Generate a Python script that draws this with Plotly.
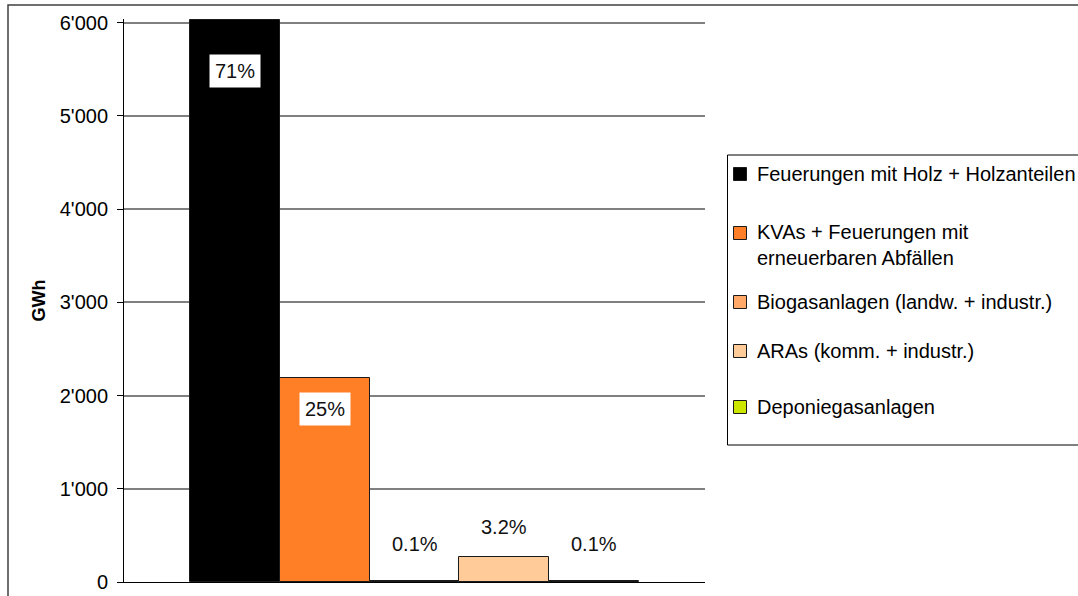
import plotly.graph_objects as go

# Renewable heat production by plant type (GWh)
categories = [
    "Feuerungen mit Holz + Holzanteilen",
    "KVAs + Feuerungen mit erneuerbaren Abfällen",
    "Biogasanlagen (landw. + industr.)",
    "ARAs (komm. + industr.)",
    "Deponiegasanlagen",
]
legend_labels = [
    "Feuerungen mit Holz + Holzanteilen",
    "KVAs + Feuerungen mit<br>erneuerbaren Abfällen",
    "Biogasanlagen (landw. + industr.)",
    "ARAs (komm. + industr.)",
    "Deponiegasanlagen",
]
values_gwh = [6030, 2190, 10, 265, 10]
share_labels = ["71%", "25%", "0.1%", "3.2%", "0.1%"]

y_tickvals = [0, 1000, 2000, 3000, 4000, 5000, 6000]
y_ticktext = ["0", "1'000", "2'000", "3'000", "4'000", "5'000", "6'000"]

colors = ["#000000", "#FF7F27", "#FFA868", "#FFCC99", "#CCE600"]

# figure geometry (pixels)
W, H = 1078, 596
ML, MR, MT, MB = 124, 373, 19, 14
PW, PH = W - ML - MR, H - MT - MB
FONT = "Liberation Sans, Arial, sans-serif"
FS = 20


def px2x(px):
    return (px - ML) / PW


def px2y(py):
    return (H - MB - py) / PH


fig = go.Figure()
for cat, val, col in zip(categories, values_gwh, colors):
    fig.add_trace(go.Bar(
        x=[cat], y=[val], name=cat,
        marker=dict(color=col, line=dict(color="#1a1a1a", width=1)),
        showlegend=False, hoverinfo="y+name",
    ))

# percentage labels, offset from each bar top (pixels)
label_shift = [-51, -31, 37, 30, 37]
for cat, val, txt, dy in zip(categories, values_gwh, share_labels, label_shift):
    fig.add_annotation(
        x=cat, y=val, xref="x", yref="y", text=txt, showarrow=False,
        yshift=dy, yanchor="middle", font=dict(family=FONT, size=FS, color="#111"),
        bgcolor="white", borderpad=5,
    )

shapes = []
# outer chart border
shapes.append(dict(type="rect", xref="paper", yref="paper",
                   x0=px2x(8), x1=px2x(1100), y0=px2y(620), y1=px2y(5),
                   line=dict(color="#404040", width=1.5), layer="below"))
# legend box
shapes.append(dict(type="rect", xref="paper", yref="paper",
                   x0=px2x(727.5), x1=px2x(1100), y0=px2y(445), y1=px2y(155),
                   line=dict(color="#000", width=1), fillcolor="white"))

swatch_y = [174, 233, 302, 351, 407]
text_y = [174, 245, 302, 351, 407]
for col, lab, sy, ty in zip(colors, legend_labels, swatch_y, text_y):
    shapes.append(dict(type="rect", xref="paper", yref="paper",
                       x0=px2x(733.5), x1=px2x(746.5), y0=px2y(sy + 6.5), y1=px2y(sy - 6.5),
                       line=dict(color="#1a1a1a", width=1), fillcolor=col))
    fig.add_annotation(
        x=px2x(755), y=px2y(ty), xref="paper", yref="paper", text=lab,
        showarrow=False, xanchor="left", yanchor="middle", align="left",
        font=dict(family=FONT, size=FS, color="#000"),
    )

# y-axis title
fig.add_annotation(
    x=px2x(38), y=0.5, xref="paper", yref="paper", text="<b>GWh</b>",
    showarrow=False, textangle=-90, xanchor="center", yanchor="middle",
    font=dict(family=FONT, size=18, color="#000"),
)

fig.update_layout(
    width=W, height=H,
    margin=dict(l=ML, r=MR, t=MT, b=MB, pad=0, autoexpand=False),
    paper_bgcolor="white", plot_bgcolor="white",
    barmode="relative", bargap=0,
    shapes=shapes,
    font=dict(family=FONT, size=FS, color="#000"),
    xaxis=dict(
        type="category", categoryorder="array", categoryarray=categories,
        range=[-1.24, 5.24], showticklabels=False, ticks="",
        showgrid=False, zeroline=False, automargin=False,
        showline=True, linecolor="#000", linewidth=1,
    ),
    yaxis=dict(
        range=[0, 6040], tickvals=y_tickvals, ticktext=y_ticktext,
        showgrid=True, gridcolor="#808080", gridwidth=1.5,
        zeroline=False, showline=True, linecolor="#000", linewidth=1,
        ticks="outside", ticklen=6, tickcolor="#000", automargin=False,
        ticklabelstandoff=5,
        tickfont=dict(family=FONT, size=FS, color="#000"),
    ),
)

fig.write_html("out.html")
